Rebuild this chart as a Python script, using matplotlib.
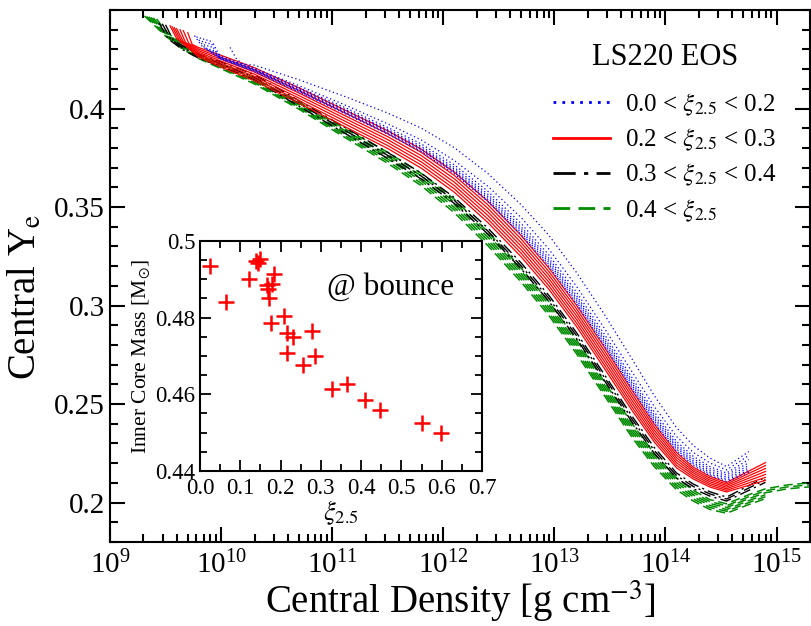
import numpy as np
import matplotlib
matplotlib.use("Agg")
import matplotlib.pyplot as plt
from matplotlib.lines import Line2D
from matplotlib.ticker import FixedLocator, LogFormatterSciNotation, MultipleLocator, FuncFormatter, NullFormatter

plt.rcParams["font.family"] = ["Liberation Serif", "DejaVu Serif"]
plt.rcParams["mathtext.fontset"] = "stix"

# common log10(central density) grid shared by all collapse tracks
DENS_LOG = [9.5, 9.65, 9.8, 10.0, 10.3, 10.7, 11.1, 11.5, 11.8, 12.1, 12.4, 12.7, 12.95,
            13.2, 13.45, 13.7, 13.9, 14.1, 14.25, 14.4, 14.55, 14.75, 14.9, 15.1, 15.3]
_ = None

# 0.0 < xi < 0.2 : first points of each track, then Ye on DENS_LOG
BLUE_HEAD = [
    [(10.08, 0.431), (10.14, 0.425), (10.2, 0.4225)],
    [(9.93, 0.433), (9.97, 0.4285)],
    [(9.90, 0.4345), (9.95, 0.429)],
    [(9.87, 0.435), (9.93, 0.4295)],
    [(9.84, 0.4355), (9.90, 0.430)],
    [(9.81, 0.436), (9.87, 0.4305)],
    [(9.78, 0.4365), (9.85, 0.431)],
    [(9.76, 0.437), (9.83, 0.4315)],
]
BLUE_YE = [
    [_, _, _, _, .4220, .4146, .4064, .3977, .3901, .3801, .3671, .3512, .3357, .3167, .2955, .2728, .2542, .2380, .2290, .2226, .2183, .2259],
    [_, _, _, .4265, .4204, .4116, .4022, .3922, .3841, .3736, .3606, .3447, .3287, .3097, .2885, .2663, .2487, .2335, .2255, .2201, .2166, .2239],
    [_, _, _, .4260, .4201, .4106, .4009, .3904, .3821, .3714, .3581, .3417, .3257, .3067, .2855, .2633, .2459, .2310, .2235, .2183, .2150, .2219],
    [_, _, _, .4258, .4198, .4100, .4000, .3894, .3809, .3701, .3566, .3400, .3240, .3050, .2838, .2617, .2444, .2297, .2223, .2172, .2140, .2202],
    [_, _, _, .4256, .4195, .4095, .3993, .3887, .3801, .3692, .3555, .3389, .3229, .3039, .2827, .2606, .2433, .2287, .2213, .2162, .2130, .2188],
    [_, _, _, .4254, .4192, .4091, .3987, .3881, .3794, .3684, .3545, .3379, .3218, .3028, .2816, .2595, .2423, .2278, .2204, .2153, .2121, .2176],
    [_, _, _, .4252, .4190, .4087, .3982, .3875, .3787, .3676, .3536, .3369, .3208, .3018, .2806, .2585, .2413, .2269, .2196, .2145, .2113, .2165],
    [_, _, _, .4250, .4188, .4084, .3978, .3870, .3781, .3669, .3528, .3360, .3199, .3009, .2797, .2576, .2404, .2261, .2189, .2138, .2106, .2154],
]

# 0.2 < xi < 0.3
RED_HEAD = [
    [(9.70, 0.4385), (9.74, 0.4325)],
    [(9.66, 0.4395), (9.71, 0.433)],
    [(9.63, 0.440), (9.68, 0.4335)],
    [(9.60, 0.4405), (9.66, 0.434)],
    [(9.58, 0.441), (9.64, 0.4345)],
    [(9.56, 0.4415), (9.62, 0.435)],
    [(9.54, 0.442), (9.60, 0.4355)],
]
RED_YE = [
    [_, _, .4309, .4270, .4207, .4105, .3996, .3887, .3794, .3677, .3530, .3356, .3191, .3001, .2789, .2569, .2397, .2254, .2180, .2133, .2102, .2160, .2203],
    [_, _, .4301, .4260, .4196, .4092, .3982, .3872, .3778, .3660, .3512, .3338, .3173, .2983, .2771, .2552, .2382, .2241, .2170, .2124, .2094, .2148, .2188],
    [_, _, .4293, .4250, .4185, .4079, .3968, .3857, .3762, .3643, .3494, .3320, .3155, .2965, .2753, .2535, .2367, .2228, .2160, .2115, .2086, .2136, .2173],
    [_, _, .4285, .4240, .4174, .4066, .3954, .3842, .3746, .3626, .3476, .3302, .3137, .2947, .2735, .2518, .2352, .2215, .2150, .2106, .2078, .2124, .2158],
    [_, _, .4277, .4230, .4163, .4053, .3940, .3827, .3730, .3609, .3458, .3284, .3119, .2929, .2717, .2501, .2337, .2202, .2140, .2097, .2070, .2112, .2143],
    [_, _, .4269, .4220, .4152, .4040, .3926, .3812, .3714, .3592, .3440, .3266, .3101, .2911, .2699, .2484, .2322, .2189, .2130, .2088, .2062, .2100, .2128],
    [_, _, .4261, .4210, .4141, .4027, .3912, .3797, .3698, .3575, .3422, .3248, .3083, .2893, .2681, .2467, .2307, .2176, .2120, .2079, .2054, .2088, .2113],
]

# 0.3 < xi < 0.4
BLACK_HEAD = [
    [(9.50, 0.4425), (9.57, 0.4345)],
    [(9.47, 0.443), (9.55, 0.435)],
    [(9.44, 0.4435), (9.52, 0.4355)],
]
BLACK_YE = [
    [_, .4320, .4275, .4237, .4172, .4040, .3909, .3777, .3673, .3548, .3394, .3217, .3052, .2862, .2650, .2438, .2279, .2150, .2094, .2055, .2028, .2086, .2129],
    [_, .4310, .4265, .4225, .4159, .4026, .3894, .3762, .3658, .3533, .3379, .3202, .3037, .2847, .2635, .2423, .2264, .2137, .2082, .2044, .2018, .2074, .2116],
    [_, .4300, .4255, .4213, .4146, .4012, .3879, .3747, .3643, .3518, .3364, .3187, .3022, .2832, .2620, .2408, .2249, .2124, .2070, .2033, .2008, .2062, .2103],
]

# 0.4 < xi
GREEN_HEAD = [
    [(9.42, 0.4455)],
    [(9.39, 0.446)],
    [(9.37, 0.4462)],
    [(9.35, 0.4465)],
    [(9.33, 0.4467)],
    [(9.31, 0.447)],
]
GREEN_YE = [
    [.4392, .4327, .4277, .4228, .4155, .4033, .3902, .3778, .3671, .3539, .3375, .3190, .3020, .2825, .2613, .2400, .2248, .2125, .2062, .2015, .1994, .2040, .2070, .2090, .2100],
    [.4387, .4322, .4272, .4223, .4149, .4026, .3893, .3767, .3659, .3525, .3361, .3176, .3006, .2811, .2599, .2386, .2235, .2113, .2051, .2005, .1984, .2030, .2060, .2080, .2090],
    [.4382, .4317, .4267, .4218, .4143, .4019, .3884, .3756, .3646, .3512, .3347, .3162, .2992, .2797, .2585, .2372, .2222, .2101, .2040, .1995, .1975, .2020, .2050, .2070, .2080],
    [.4378, .4313, .4263, .4212, .4137, .4011, .3876, .3744, .3634, .3498, .3333, .3148, .2978, .2783, .2571, .2358, .2208, .2089, .2030, .1985, .1965, .2010, .2040],
    [.4373, .4308, .4258, .4207, .4131, .4004, .3867, .3733, .3621, .3485, .3319, .3134, .2964, .2769, .2557, .2344, .2195, .2077, .2019, .1975, .1956, .2000, .2030],
    [.4368, .4303, .4253, .4202, .4125, .3997, .3858, .3722, .3609, .3471, .3305, .3120, .2950, .2755, .2543, .2330, .2182, .2065, .2008, .1965, .1946, .1990, .2020],
]

# inner core mass at bounce vs compactness
XI_25 = [0.025, 0.0645, 0.1225, 0.138, 0.149, 0.145, 0.167, 0.178, 0.170, 0.184, 0.172, 0.176, 0.208,
         0.217, 0.232, 0.217, 0.255, 0.277, 0.286, 0.328, 0.366, 0.409, 0.447, 0.55, 0.598]
M_IC = [0.4936, 0.4842, 0.4900, 0.4949, 0.4952, 0.4942, 0.4885, 0.4889, 0.4874, 0.4914, 0.4850, 0.4787, 0.4804,
        0.4760, 0.4750, 0.4708, 0.4676, 0.4765, 0.4700, 0.4615, 0.4628, 0.4586, 0.4560, 0.4525, 0.4500]

LABELS = [r"0.0 < $\xi_{2.5}$ < 0.2", r"0.2 < $\xi_{2.5}$ < 0.3",
          r"0.3 < $\xi_{2.5}$ < 0.4", r"0.4 < $\xi_{2.5}$"]

BLUE = "#0000ff"
RED = "#ff0000"
GREEN = "#008b00"
STYLES = [
    dict(color=BLUE, linestyle=(0, (1, 2.2)), linewidth=0.9),
    dict(color=RED, linestyle="-", linewidth=0.9),
    dict(color="black", linestyle=(0, (8, 3, 1.5, 3)), linewidth=1.0),
    dict(color=GREEN, linestyle=(0, (6, 3)), linewidth=1.1),
]


def draw_track(ax, head, row, style):
    x = [h[0] for h in head]
    y = [h[1] for h in head]
    for lr, ye in zip(DENS_LOG, row):
        if ye is not None:
            x.append(lr)
            y.append(ye)
    ax.plot(10 ** np.array(x), y, **style)


fig = plt.figure(figsize=(8.12, 6.26), dpi=100)
ax = fig.add_axes([110 / 812, 84 / 626, 700 / 812, 532 / 626])

groups = [(BLUE_HEAD, BLUE_YE), (RED_HEAD, RED_YE), (BLACK_HEAD, BLACK_YE), (GREEN_HEAD, GREEN_YE)]
for (heads, rows), style in zip(groups[::-1], STYLES[::-1]):
    for head, row in zip(heads, rows):
        draw_track(ax, head, row, style)

ax.set_xscale("log")
ax.set_xlim(1e9, 2e15)
ax.set_ylim(0.18, 0.45)
ax.xaxis.set_major_locator(FixedLocator(10.0 ** np.arange(9, 16)))
ax.xaxis.set_major_formatter(LogFormatterSciNotation())
ax.xaxis.set_minor_locator(FixedLocator([m * 10.0 ** e for e in range(9, 16) for m in range(2, 10)
                                         if m * 10.0 ** e < 2e15]))
ax.xaxis.set_minor_formatter(NullFormatter())
ax.set_yticks([0.2, 0.25, 0.3, 0.35, 0.4])
ax.yaxis.set_minor_locator(MultipleLocator(0.01))
ax.yaxis.set_major_formatter(FuncFormatter(lambda v, p: f"{v:g}"))
ax.tick_params(which="both", direction="in", top=True, right=True, labelsize=21, width=1.5)
ax.tick_params(which="major", length=11)
ax.tick_params(which="minor", length=6)
ax.tick_params(axis="x", pad=6)
for sp in ax.spines.values():
    sp.set_linewidth(1.5)

ax.set_xlabel(r"Central Density [g cm$^{-3}$]", fontsize=28)
ax.set_ylabel(r"Central Y$_{\rm e}$", fontsize=28)
ax.xaxis.set_label_coords(0.5, -0.068)
ax.yaxis.set_label_coords(-0.093, 0.46)

handles = [Line2D([], [], **dict(st, linewidth=2.0)) for st in STYLES]
leg = ax.legend(handles, LABELS, loc="upper right", bbox_to_anchor=(0.985, 0.98),
                frameon=False, fontsize=18, title="LS220 EOS", title_fontsize=22,
                handlelength=2.3, handletextpad=0.6, labelspacing=0.36)
leg._legend_box.sep = 14

# inset: inner core mass at bounce
axin = fig.add_axes([200 / 812, 155 / 626, 282 / 812, 230 / 626])
axin.plot(XI_25, M_IC, linestyle="none", marker="+", markersize=11, markeredgewidth=1.8, color=RED)
axin.set_xlim(0, 0.7)
axin.set_ylim(0.44, 0.5)
axin.xaxis.set_major_locator(MultipleLocator(0.1))
axin.xaxis.set_minor_locator(MultipleLocator(0.05))
axin.yaxis.set_major_locator(MultipleLocator(0.02))
axin.yaxis.set_minor_locator(MultipleLocator(0.005))
axin.xaxis.set_major_formatter(FuncFormatter(lambda v, p: f"{v:.1f}"))
axin.yaxis.set_major_formatter(FuncFormatter(lambda v, p: f"{v:g}"))
axin.tick_params(which="both", direction="in", top=True, right=True, labelsize=16.5, width=1.3)
axin.tick_params(which="major", length=8)
axin.tick_params(which="minor", length=5)
axin.tick_params(axis="x", pad=5)
for sp in axin.spines.values():
    sp.set_linewidth(1.5)
axin.set_xlabel(r"$\xi_{2.5}$", fontsize=19, labelpad=0)
axin.set_ylabel(r"Inner Core Mass [M$_{\odot}$]", fontsize=15.5, labelpad=2)
axin.text(0.45, 0.80, "@ bounce", transform=axin.transAxes, fontsize=22.5, va="center", ha="left")

fig.savefig("out.png", dpi=100)
